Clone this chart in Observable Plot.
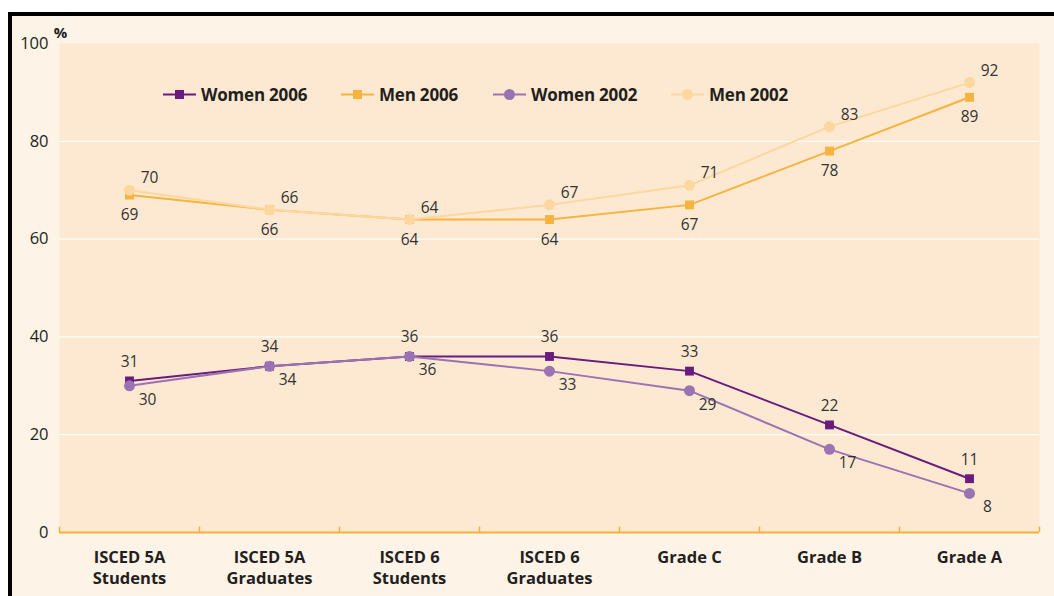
<!DOCTYPE html>
<html><head><meta charset="utf-8">
<script src="https://cdn.jsdelivr.net/npm/d3@7"></script>
<script src="https://cdn.jsdelivr.net/npm/@observablehq/plot@0.6"></script>
<style>
body{margin:0;background:#fff;width:1054px;height:596px;overflow:hidden;position:relative;font-family:"Open Sans",sans-serif}
#frame{position:absolute;left:8px;top:12px;width:1100px;height:650px;border:4px solid #000;background:#fdf3e7}
#chart{position:absolute;left:0;top:0}
#legend{position:absolute;top:84px;left:0;width:1054px;height:20px}
.item{position:absolute;top:0;height:20px;display:flex;align-items:center;font-weight:700;font-size:17px;letter-spacing:-0.2px;color:#231f20;white-space:nowrap}
.item svg{margin-right:5px}
</style></head>
<body>
<div id="frame"></div>
<div id="chart"></div>
<div id="legend"></div>
<script>
const categories = ["ISCED 5A\nStudents","ISCED 5A\nGraduates","ISCED 6\nStudents","ISCED 6\nGraduates","Grade C","Grade B","Grade A"];
const seriesNames = ["Women 2006","Men 2006","Women 2002","Men 2002"];
const women2006 = [31,34,36,36,33,22,11];
const men2006   = [69,66,64,64,67,78,89];
const women2002 = [30,34,36,33,29,17,8];
const men2002   = [70,66,64,67,71,83,92];
const yTicks = [0,20,40,60,80,100];

const orange = "#f5b03c";
const styles = {
  "Women 2006": {values: women2006, color: "#6a1b7e", symbol: "square", r: 5, dx: 0, dy: -19},
  "Men 2006":   {values: men2006,   color: "#f6b33d", symbol: "square", r: 5, dx: 0, dy: 20},
  "Women 2002": {values: women2002, color: "#9b72b2", symbol: "circle", r: 5.5, dx: 18, dy: 14},
  "Men 2002":   {values: men2002,   color: "#fcd79f", symbol: "circle", r: 5.5, dx: 20, dy: -12}
};
const idx = d3.range(categories.length);
const edges = d3.range(categories.length + 1).map(i => i - 0.5);
const drawOrder = ["Men 2006","Women 2006","Men 2002","Women 2002"];

const marks = [
  Plot.frame({fill: "#fde9d1", stroke: null}),
  Plot.gridY([20,40,60,80], {stroke: "#ffffff", strokeOpacity: 0.9, strokeWidth: 1.2}),
  Plot.ruleY([0], {stroke: orange, strokeWidth: 2}),
  Plot.ruleX(edges, {x: d => d, y1: 0, y2: 1.1, stroke: orange, strokeWidth: 1.5}),
  Plot.axisY(yTicks, {tickSize: 0, tickPadding: 11, fontSize: 16.5, fill: "#231f20", fontFamily: "Open Sans"}),
  Plot.axisX(idx, {tickSize: 0, tickPadding: 15, tickFormat: i => categories[i], fontSize: 16.5, fontWeight: "bold", lineHeight: 1.3, fill: "#231f20", fontFamily: "Open Sans"}),
  Plot.text(["%"], {frameAnchor: "top-left", textAnchor: "middle", dx: 1, dy: -16, fontSize: 15, fontWeight: "bold", fill: "#231f20", fontFamily: "Open Sans"})
];
for (const name of drawOrder) {
  const s = styles[name];
  marks.push(Plot.line(idx, {x: i => i, y: i => s.values[i], stroke: s.color, strokeWidth: 2}));
  marks.push(Plot.dot(idx, {x: i => i, y: i => s.values[i], fill: s.color, symbol: s.symbol, r: s.r, stroke: null}));
}
for (const name of seriesNames) {
  const s = styles[name];
  marks.push(Plot.text(idx, {x: i => i, y: i => s.values[i], text: i => String(s.values[i]), dx: s.dx, dy: s.dy, fontSize: 15.5, fill: "#333", fontFamily: "Open Sans"}));
}

const chart = Plot.plot({
  width: 1054, height: 596,
  marginLeft: 59, marginRight: 15, marginTop: 43, marginBottom: 64,
  style: {background: "transparent", overflow: "visible", fontFamily: "Open Sans"},
  x: {type: "linear", domain: [-0.5, categories.length - 0.5], axis: null},
  y: {domain: [0, 100], axis: null},
  marks
});
document.getElementById("chart").appendChild(chart);

const legendX = [163, 341, 493, 671];
const leg = document.getElementById("legend");
seriesNames.forEach((name, k) => {
  const s = styles[name];
  const div = document.createElement("div");
  div.className = "item";
  div.style.left = legendX[k] + "px";
  const mk = s.symbol === "square"
    ? `<rect x="12" y="5" width="9" height="9" fill="${s.color}"/>`
    : `<circle cx="16.5" cy="9.5" r="5.5" fill="${s.color}"/>`;
  div.innerHTML = `<svg width="33" height="19"><line x1="0" x2="33" y1="9.5" y2="9.5" stroke="${s.color}" stroke-width="2"/>${mk}</svg><span>${name}</span>`;
  leg.appendChild(div);
});
</script>
</body></html>
